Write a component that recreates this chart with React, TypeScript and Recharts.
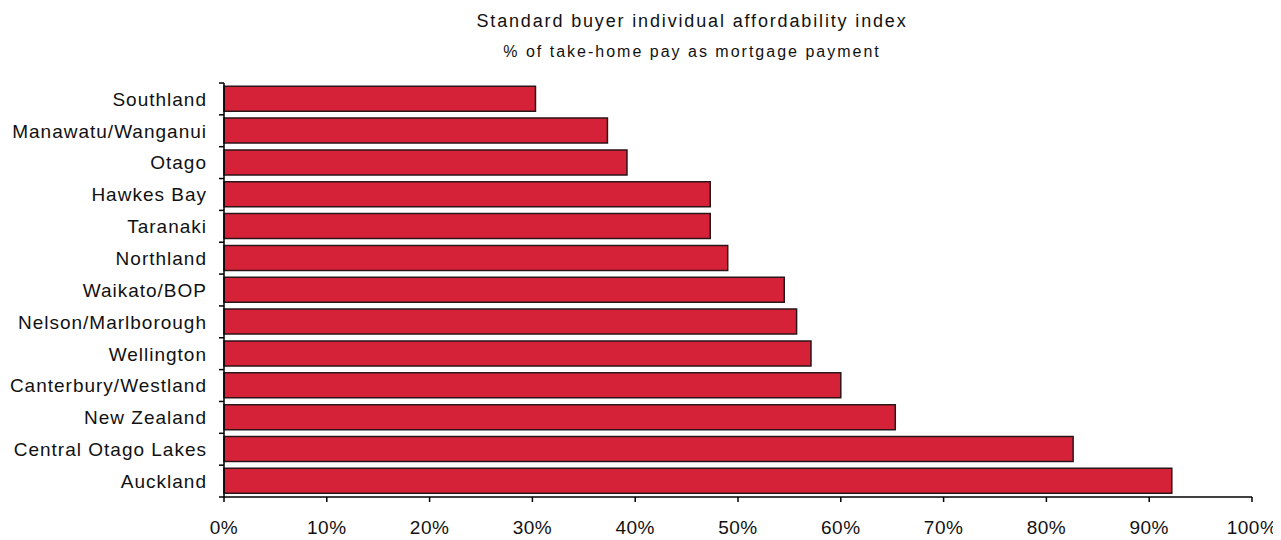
import React from 'react';
import { BarChart, Bar, XAxis, YAxis } from 'recharts';

const categories = [
  'Southland',
  'Manawatu/Wanganui',
  'Otago',
  'Hawkes Bay',
  'Taranaki',
  'Northland',
  'Waikato/BOP',
  'Nelson/Marlborough',
  'Wellington',
  'Canterbury/Westland',
  'New Zealand',
  'Central Otago Lakes',
  'Auckland',
];

const affordability = [30.3, 37.3, 39.2, 47.3, 47.3, 49.0, 54.5, 55.7, 57.1, 60.0, 65.3, 82.6, 92.2];

const xTicks = [0, 10, 20, 30, 40, 50, 60, 70, 80, 90, 100];

const titleText = 'Standard buyer individual affordability index';
const subtitleText = '% of take-home pay as mortgage payment';

const data = categories.map((name, i) => ({ name, value: affordability[i] }));

const CHART_W = 1273;
const CHART_H = 532;
const MARGIN = { top: 75, right: 29, bottom: 12, left: 0 };
const YAXIS_W = 216;
const XAXIS_H = 31;
const AXIS_X = MARGIN.left + YAXIS_W;
const PLOT_H = CHART_H - MARGIN.top - MARGIN.bottom - XAXIS_H;
const BAND = PLOT_H / categories.length;

const FONT = '"Liberation Sans", Arial, sans-serif';

const YTick = (props: any) => {
  const { x, y, payload, index } = props;
  const half = BAND / 2;
  return (
    <g>
      <line x1={AXIS_X - 5} x2={AXIS_X} y1={y - half} y2={y - half} stroke="#000" strokeWidth={1.5} />
      {index === categories.length - 1 && (
        <line x1={AXIS_X - 5} x2={AXIS_X} y1={y + half} y2={y + half} stroke="#000" strokeWidth={1.5} />
      )}
      <text
        x={x}
        y={y}
        dy="0.36em"
        textAnchor="end"
        fill="#111"
        fontFamily={FONT}
        fontSize={19}
        letterSpacing={1.0}
      >
        {payload.value}
      </text>
    </g>
  );
};

export default function App() {
  return (
    <div style={{ position: 'relative', width: CHART_W, height: CHART_H, background: '#fff' }}>
      <div
        style={{
          position: 'absolute',
          left: 684 - 300,
          top: 3,
          width: 600,
          textAlign: 'center',
          fontFamily: FONT,
          fontSize: 18,
          letterSpacing: 1.85,
          color: '#111',
          lineHeight: '20px',
        }}
      >
        {titleText}
      </div>
      <div
        style={{
          position: 'absolute',
          left: 684 - 300,
          top: 35,
          width: 600,
          textAlign: 'center',
          fontFamily: FONT,
          fontSize: 16,
          letterSpacing: 2.0,
          color: '#111',
          lineHeight: '18px',
        }}
      >
        {subtitleText}
      </div>
      <BarChart
        width={CHART_W}
        height={CHART_H}
        data={data}
        layout="vertical"
        margin={MARGIN}
        barCategoryGap="10%"
      >
        <XAxis
          type="number"
          domain={[0, 100]}
          ticks={xTicks}
          interval={0}
          tickFormatter={(v: number) => `${v}%`}
          axisLine={{ stroke: '#000', strokeWidth: 1.5 }}
          tickLine={{ stroke: '#000', strokeWidth: 1.5 }}
          tickSize={5}
          tickMargin={19}
          height={XAXIS_H}
          tick={{ fill: '#111', fontSize: 19, fontFamily: FONT, letterSpacing: 0.5 }}
        />
        <YAxis
          type="category"
          dataKey="name"
          width={YAXIS_W}
          interval={0}
          axisLine={{ stroke: '#000', strokeWidth: 1.5 }}
          tickLine={false}
          tickSize={5}
          tickMargin={12}
          tick={<YTick />}
        />
        <Bar
          dataKey="value"
          fill="#D62238"
          stroke="#2a1518"
          strokeWidth={1.5}
          isAnimationActive={false}
        />
      </BarChart>
    </div>
  );
}
